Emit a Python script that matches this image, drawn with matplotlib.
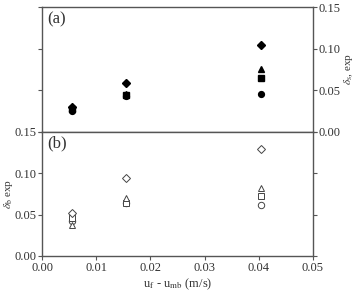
import numpy as np
from matplotlib import pyplot as plt

plt.rcParams['font.family'] = ['Liberation Serif', 'DejaVu Serif']
plt.rcParams['mathtext.fontset'] = 'stix'

x_vals = [0.0054, 0.0154, 0.0404]

# panel (a) - filled markers
top_circle = [0.025, 0.043, 0.046]
top_square = [0.027, 0.044, 0.065]
top_triangle = [0.028, 0.045, 0.076]
top_diamond = [0.030, 0.059, 0.105]

# panel (b) - open markers
bot_circle = [0.042, 0.064, 0.062]
bot_square = [0.046, 0.064, 0.073]
bot_triangle = [0.037, 0.070, 0.082]
bot_diamond = [0.052, 0.094, 0.129]

xticks = [0.00, 0.01, 0.02, 0.03, 0.04, 0.05]
yticks = [0.00, 0.05, 0.10, 0.15]

ink = '#333333'

fig = plt.figure(figsize=(3.54, 2.91), dpi=100)
ax_a = fig.add_axes([0.1195, 0.5474, 0.7638, 0.4275])
ax_b = fig.add_axes([0.1195, 0.1203, 0.7638, 0.4271])

series = [('o', 4.2), ('s', 4.0), ('^', 4.5), ('D', 3.6)]

for ys, (m, ms) in zip([top_circle, top_square, top_triangle, top_diamond], series):
    ax_a.plot(x_vals, ys, m, color='black', ms=ms, linestyle='none')
for ys, (m, ms) in zip([bot_circle, bot_square, bot_triangle, bot_diamond], series):
    ax_b.plot(x_vals, ys, m, mfc='white', mec='#444444', mew=0.7, ms=ms + 0.4, linestyle='none')

for ax in (ax_a, ax_b):
    ax.set_xlim(0, 0.05)
    ax.set_ylim(0, 0.15)
    ax.set_yticks(yticks)
    for s in ax.spines.values():
        s.set_color('#555555')
        s.set_linewidth(1.0)
    ax.tick_params(direction='out', length=3, width=0.8, color='#555555',
                   labelsize=9, labelcolor=ink, pad=1.5)

# top panel: labels on right side, no x labels
ax_a.set_xticks(xticks)
ax_a.tick_params(axis='x', bottom=False, labelbottom=False)
ax_a.tick_params(axis='y', left=True, right=True, labelleft=False, labelright=True)
ax_a.set_yticklabels(['0.00', '0.05', '0.10', '0.15'])
ax_a.yaxis.set_label_position('right')
ax_a.set_ylabel(r'$\delta_{\rm s}$, exp', fontsize=8, color=ink)
ax_a.yaxis.set_label_coords(1.108, 0.5)
ax_a.text(0.02, 0.97, '(a)', transform=ax_a.transAxes, fontsize=12, color=ink,
          ha='left', va='top')

# bottom panel
ax_b.set_xticks(xticks)
ax_b.set_xticklabels(['0.00', '0.01', '0.02', '0.03', '0.04', '0.05'])
ax_b.tick_params(axis='y', left=True, right=True, labelleft=True, labelright=False)
ax_b.set_yticklabels(['0.00', '0.05', '0.10', '0.15'])
ax_b.set_ylabel(r'$\delta_{\rm b}$ exp', fontsize=8, color=ink)
ax_b.yaxis.set_label_coords(-0.100, 0.5)
ax_b.set_xlabel(r'u$_{\rm f}$ - u$_{\rm mb}$ (m/s)', fontsize=9, color=ink, labelpad=2)
ax_b.text(0.02, 0.97, '(b)', transform=ax_b.transAxes, fontsize=12, color=ink,
          ha='left', va='top')

fig.savefig('out.png', dpi=100)
